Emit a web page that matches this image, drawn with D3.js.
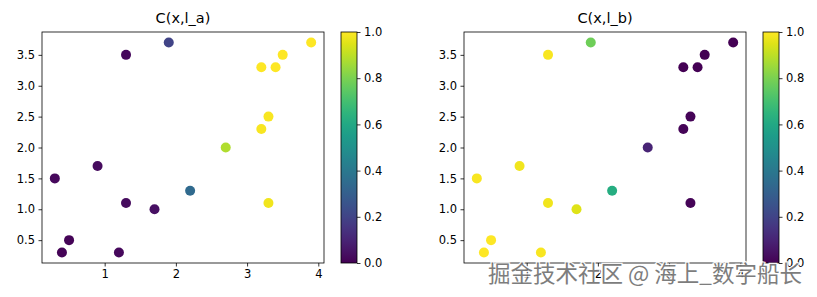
<!DOCTYPE html>
<html>
<head>
<meta charset="utf-8">
<script src="https://cdn.jsdelivr.net/npm/d3@7"></script>
<style>
  body { margin: 0; background: #fff; }
  text { font-family: "DejaVu Sans", sans-serif; }
</style>
</head>
<body>
<script>
// data
const xs = [0.3, 0.4, 0.5, 0.9, 1.2, 1.3, 1.3, 1.7, 1.9, 2.2, 2.7, 3.2, 3.3, 3.3, 3.2, 3.4, 3.5, 3.9];
const ys = [1.5, 0.3, 0.5, 1.7, 0.3, 1.1, 3.5, 1.0, 3.7, 1.3, 2.0, 2.3, 2.5, 1.1, 3.3, 3.3, 3.5, 3.7];
const cA = [0.02, 0.01, 0.01, 0.03, 0.02, 0.03, 0.02, 0.04, 0.2, 0.34, 0.88, 0.99, 0.99, 0.98, 1.0, 1.0, 1.0, 1.0];
const cB = [0.99, 1.0, 1.0, 0.98, 0.99, 0.98, 0.99, 0.95, 0.78, 0.62, 0.1, 0.01, 0.01, 0.01, 0.0, 0.0, 0.0, 0.0];
const titles = ["C(x,l_a)", "C(x,l_b)"];
const xTicks = [1, 2, 3, 4];
const yTicks = [0.5, 1.0, 1.5, 2.0, 2.5, 3.0, 3.5];
const cTicks = [0.0, 0.2, 0.4, 0.6, 0.8, 1.0];

const W = 817, H = 297;
const svg = d3.select("body").append("svg").attr("width", W).attr("height", H);

const defs = svg.append("defs");
const grad = defs.append("linearGradient").attr("id", "viridis")
  .attr("x1", 0).attr("y1", 1).attr("x2", 0).attr("y2", 0);
d3.range(0, 1.0001, 0.05).forEach(t => {
  grad.append("stop").attr("offset", t).attr("stop-color", d3.interpolateViridis(t));
});

const panels = [
  {left: 42, colors: cA, cbLeft: 341},
  {left: 464, colors: cB, cbLeft: 763}
];
const plotTop = 32, plotBottom = 263, pw = 282, cbW = 16;

const fmt1 = d3.format(".1f");

panels.forEach((p, k) => {
  const g = svg.append("g");
  const x = d3.scaleLinear().domain([0.12, 4.08]).range([p.left, p.left + pw]);
  const y = d3.scaleLinear().domain([0.13, 3.87]).range([plotBottom, plotTop]);
  const color = d3.scaleSequential(d3.interpolateViridis).domain([0, 1]);

  g.selectAll("circle")
    .data(xs.map((v, i) => ({x: v, y: ys[i], c: p.colors[i]})))
    .enter().append("circle")
    .attr("cx", d => x(d.x))
    .attr("cy", d => y(d.y))
    .attr("r", 5)
    .attr("fill", d => color(d.c));

  g.append("rect")
    .attr("x", p.left).attr("y", plotTop)
    .attr("width", pw).attr("height", plotBottom - plotTop)
    .attr("fill", "none").attr("stroke", "#000").attr("stroke-width", 0.8);

  const xa = g.append("g").attr("transform", "translate(0," + plotBottom + ")")
    .call(d3.axisBottom(x).tickValues(xTicks).tickSize(3.5).tickPadding(3.5).tickFormat(d3.format("d")));
  const ya = g.append("g").attr("transform", "translate(" + p.left + ",0)")
    .call(d3.axisLeft(y).tickValues(yTicks).tickSize(3.5).tickPadding(3.5).tickFormat(fmt1));
  [xa, ya].forEach(a => {
    a.select(".domain").remove();
    a.selectAll("text").attr("font-size", 11.5).attr("fill", "#000")
      .style("font-family", "DejaVu Sans");
    a.selectAll("line").attr("stroke", "#000").attr("stroke-width", 0.8);
  });

  g.append("text")
    .attr("x", p.left + pw / 2).attr("y", 23)
    .attr("text-anchor", "middle")
    .attr("font-size", 14.5)
    .text(titles[k]);

  // colorbar
  const cy = d3.scaleLinear().domain([0, 1]).range([plotBottom, plotTop]);
  g.append("rect")
    .attr("x", p.cbLeft).attr("y", plotTop)
    .attr("width", cbW).attr("height", plotBottom - plotTop)
    .attr("fill", "url(#viridis)")
    .attr("stroke", "#000").attr("stroke-width", 0.8);
  const ca = g.append("g").attr("transform", "translate(" + (p.cbLeft + cbW) + ",0)")
    .call(d3.axisRight(cy).tickValues(cTicks).tickSize(3.5).tickPadding(3.5).tickFormat(fmt1));
  ca.select(".domain").remove();
  ca.selectAll("text").attr("font-size", 11.5).attr("fill", "#000").style("font-family", "DejaVu Sans");
  ca.selectAll("line").attr("stroke", "#000").attr("stroke-width", 0.8);
});

// watermark
svg.append("text")
  .attr("x", 488).attr("y", 282)
  .attr("font-size", 22.5)
  .style("font-family", "'Noto Sans CJK SC', sans-serif")
  .attr("fill", "#707070")
  .attr("stroke", "#fff").attr("stroke-width", 2.5)
  .attr("paint-order", "stroke")
  .attr("opacity", 0.9)
  .text("掘金技术社区 @ 海上_数字船长");
</script>
</body>
</html>
